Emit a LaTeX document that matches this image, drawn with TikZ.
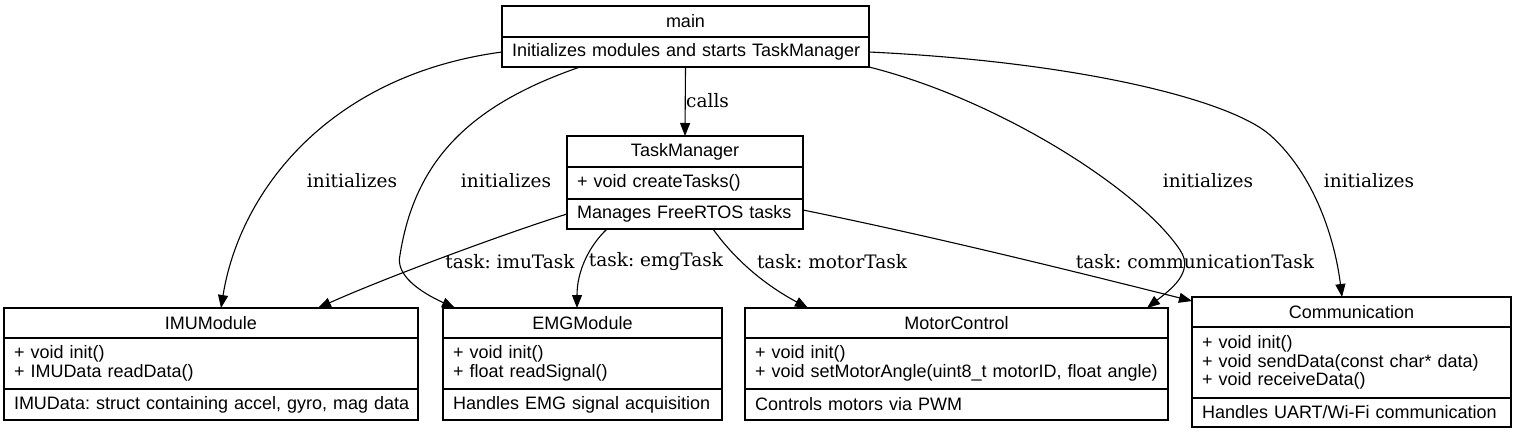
\documentclass[tikz,border=0pt]{standalone}
\usepackage{fontspec}
\newfontfamily\nodefont{Liberation Sans}
\newfontfamily\edgefont{DejaVu Serif}
\usetikzlibrary{arrows.meta}
\newcommand\oneline[1]{\mbox{#1}}
\frenchspacing
\begin{document}
\begin{tikzpicture}[x=1pt,y=-1pt,
  box/.style={draw, line width=1.2pt, rectangle, anchor=north west, inner xsep=10pt, inner ysep=0pt, outer sep=0pt,
    font=\nodefont\fontsize{18}{18.5}\selectfont},
  hdr/.style={box, align=center},
  body/.style={box, align=left},
  edge/.style={line width=1.1pt, -{Triangle[length=13pt,width=10pt]}},
  elabel/.style={font=\edgefont\fontsize{18.5}{20}\selectfont, inner sep=0pt}
]
\useasboundingbox (0,0) rectangle (1517,436);

% main
\node[hdr, text width=347pt, minimum height=31pt] (mainH) at (502,6) {main};
\node[body, text width=347pt, minimum height=30pt] (mainD) at (mainH.south west) {\oneline{Initializes modules and starts TaskManager}};

% TaskManager
\node[hdr, text width=216pt, minimum height=31pt] (tmH) at (567,136) {TaskManager};
\node[body, text width=216pt, minimum height=32pt] (tmM) at (tmH.south west) {\oneline{+ void createTasks()}};
\node[body, text width=216pt, minimum height=30pt] (tmD) at (tmM.south west) {\oneline{Manages FreeRTOS tasks}};

% IMUModule
\node[hdr, text width=394pt, minimum height=30pt] (imuH) at (4,308) {IMUModule};
\node[body, text width=394pt, minimum height=51pt] (imuM) at (imuH.south west) {\oneline{+ void init()}\\\oneline{+ IMUData readData()}};
\node[body, text width=394pt, minimum height=31pt] (imuD) at (imuM.south west) {\oneline{IMUData: struct containing accel, gyro, mag data}};

% EMGModule
\node[hdr, text width=259pt, minimum height=30pt] (emgH) at (443,308) {EMGModule};
\node[body, text width=259pt, minimum height=51pt] (emgM) at (emgH.south west) {\oneline{+ void init()}\\\oneline{+ float readSignal()}};
\node[body, text width=259pt, minimum height=31pt] (emgD) at (emgM.south west) {\oneline{Handles EMG signal acquisition}};

% MotorControl
\node[hdr, text width=403pt, minimum height=30pt] (motH) at (745,308) {MotorControl};
\node[body, text width=403pt, minimum height=51pt] (motM) at (motH.south west) {\oneline{+ void init()}\\\oneline{+ void setMotorAngle(uint8\_t motorID, float angle)}};
\node[body, text width=403pt, minimum height=31pt] (motD) at (motM.south west) {\oneline{Controls motors via PWM}};

% Communication
\node[hdr, text width=299pt, minimum height=30pt] (comH) at (1192,297) {Communication};
\node[body, text width=299pt, minimum height=71pt] (comM) at (comH.south west) {\oneline{+ void init()}\\\oneline{+ void sendData(const char* data)}\\\oneline{+ void receiveData()}};
\node[body, text width=299pt, minimum height=29pt] (comD) at (comM.south west) {\oneline{Handles UART/Wi-Fi communication}};

% edges from main
\draw[edge] (mainD.south) -- (tmH.north);
\draw[edge] (mainD.west) .. controls (330,75) and (240,190) .. ([xshift=217pt]imuH.north west);
\draw[edge] ([xshift=78pt]mainD.south west) .. controls (470,105) and (415,160) .. (400,255)
   .. controls (395,275) and (420,292) .. ([xshift=12pt]emgH.north west);
\draw[edge] (mainD.south east) .. controls (1000,100) and (1140,190) .. (1180,250)
   .. controls (1195,272) and (1170,290) .. ([xshift=402pt]motH.north west);
\draw[edge] (mainD.east) .. controls (1080,62) and (1230,100) .. (1270,135)
   .. controls (1315,175) and (1335,240) .. ([xshift=150pt]comH.north west);

% edges from TaskManager
\draw[edge] (tmD.west) .. controls (500,235) and (380,280) .. ([xshift=314pt]imuH.north west);
\draw[edge] ([xshift=40pt]tmD.south west) .. controls (590,245) and (577,270) .. ([xshift=134pt]emgH.north west);
\draw[edge] ([xshift=146pt]tmD.south west) .. controls (735,260) and (765,285) .. ([xshift=63pt]motH.north west);
\draw[edge] ([yshift=4pt]tmD.east) .. controls (950,240) and (1100,278) .. ([yshift=-4pt]comH.north west);

% labels
\node[elabel, anchor=west] (lCalls) at (686,101) {calls};
\node[elabel] (lInit1) at (352,181) {initializes};
\node[elabel] (lInit2) at (506,181) {initializes};
\node[elabel] (lInit3) at (1208,181) {initializes};
\node[elabel] (lInit4) at (1369,181) {initializes};
\node[elabel] (lImu) at (510,262) {task: imuTask};
\node[elabel] (lEmg) at (656,262) {task: emgTask};
\node[elabel] (lMot) at (832,262) {task: motorTask};
\node[elabel] (lCom) at (1195,262) {task: communicationTask};
\end{tikzpicture}
\end{document}
